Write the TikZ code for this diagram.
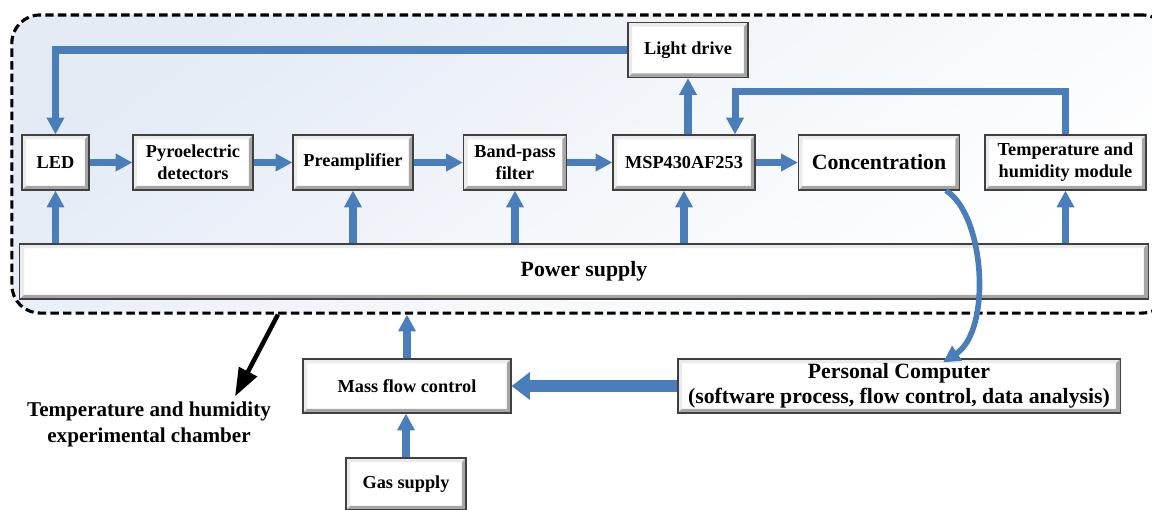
\documentclass[tikz,border=0pt]{standalone}
\usepackage{fontspec}
\setmainfont{Liberation Serif}
\usetikzlibrary{arrows.meta,positioning}
\definecolor{flowblue}{RGB}{74,126,187}
\definecolor{bgblue}{RGB}{228,235,245}

\tikzset{
  block/.style={draw=black!75, line width=0.8pt, fill=white, align=center, inner sep=1pt,
    minimum height=1.375cm, font=\bfseries\fontsize{13}{15.5}\selectfont,
    path picture={
      \fill[black!8] (path picture bounding box.south west) |- (path picture bounding box.north east)
        -- ++(-3pt,-3pt) -| ([shift={(3pt,3pt)}]path picture bounding box.south west) -- cycle;
      \fill[black!35] (path picture bounding box.south west) -- (path picture bounding box.south east)
        -- (path picture bounding box.north east) -- ++(-3pt,-3pt) |- ([shift={(3pt,3pt)}]path picture bounding box.south west) -- cycle;
    }},
  bigfont/.style={font=\bfseries\fontsize{15.5}{18}\selectfont},
  flow/.style={draw=flowblue, line width=5pt, -{Triangle[width=12pt,length=12pt]}},
  bigflow/.style={draw=flowblue, line width=9pt, -{Triangle[width=19pt,length=13pt]}},
  pointer/.style={draw=black, line width=3.2pt, -{Triangle[width=14pt,length=20pt]}},
  chamber/.style={draw=black, line width=2.2pt, dash pattern=on 6pt off 3pt, rounded corners=0.7cm,
    top color=bgblue, bottom color=white, middle color=white!55!bgblue, shading angle=35, inner sep=0pt}
}

\begin{document}
\begin{tikzpicture}[x=0.025cm, y=-0.025cm]
\useasboundingbox (0,0) rectangle (1152,509);

% experimental chamber
\node[chamber, minimum width=28.95cm, minimum height=7.45cm] (chamber) at (591,164) {};

% blocks inside the chamber
\node[block, minimum width=3cm] (light) at (688,50) {Light drive};
\node[block, minimum width=1.675cm] (led) at (55.5,162.5) {LED};
\node[block, minimum width=3cm] (pyro) at (193,162.5) {Pyroelectric\\detectors};
\node[block, minimum width=3cm] (preamp) at (353,162.5) {Preamplifier};
\node[block, minimum width=2.575cm] (bpf) at (515,162.5) {Band-pass\\filter};
\node[block, minimum width=3.55cm] (mcu) at (684,162.5) {MSP430AF253};
\node[block, bigfont, minimum width=4.025cm] (conc) at (879,162.5) {Concentration};
\node[block, minimum width=4.025cm] (thm) at (1065.5,162.5) {Temperature and\\humidity module};
\node[block, bigfont, minimum width=28.2cm] (power) at (584,271.5) {Power supply};

% blocks outside
\node[block, minimum width=5.2cm, minimum height=1.35cm] (mfc) at (407,386) {Mass flow control};
\node[block, bigfont, minimum width=11.05cm, minimum height=1.35cm] (pc) at (899,386)
  {Personal Computer\\(software process, flow control, data analysis)};
\node[block, minimum width=3cm, minimum height=1.3cm] (gas) at (406,484) {Gas supply};
\node[font=\bfseries\fontsize{15}{18.5}\selectfont, align=center] (chlabel) at (149,424)
  {Temperature and humidity\\experimental chamber};

% signal chain
\draw[flow] (led) -- (pyro);
\draw[flow] (pyro) -- (preamp);
\draw[flow] (preamp) -- (bpf);
\draw[flow] (bpf) -- (mcu);
\draw[flow] (mcu) -- (conc);
\draw[flow] (mcu.north -| light.south) -- (light.south);
\draw[flow] (light.west) -| (led.north);
\draw[flow] (thm.north) -- ++(0,-43) -| ([xshift=1.275cm]mcu.north);

% power lines
\foreach \n in {led,preamp,bpf,mcu,thm}
  \draw[flow] (power.north -| \n) -- (\n.south);

% gas path and computer
\draw[flow] (mfc.north) -- (mfc.north |- chamber.south);
\draw[flow] (gas.north) -- (gas.north |- mfc.south);
\draw[bigflow] (pc.west) -- (mfc.east);
\draw[flow, line width=4pt] ([xshift=1.675cm]conc.south) .. controls (985,215) and (992,330)
  .. ([xshift=1.1cm,yshift=-0.1cm]pc.north);

\draw[pointer] ([xshift=-7.825cm]chamber.south) -- ([xshift=2.15cm]chlabel.north);
\end{tikzpicture}
\end{document}
